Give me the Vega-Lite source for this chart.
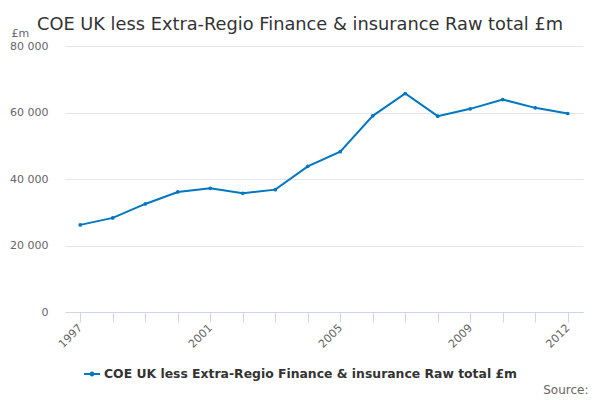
{
  "$schema": "https://vega.github.io/schema/vega-lite/v6.json",
  "autosize": "none",
  "width": 518,
  "height": 266,
  "padding": {"left": 65, "top": 46, "right": 17, "bottom": 88},
  "background": "white",
  "config": {
    "font": "DejaVu Sans",
    "view": {"stroke": null}
  },
  "title": {
    "text": "COE UK less Extra-Regio Finance & insurance Raw total £m",
    "fontSize": 17.8,
    "fontWeight": "normal",
    "color": "#333333",
    "anchor": "middle",
    "dx": -24,
    "offset": -7
  },
  "data": {
    "values": [
      {"year": "1997", "value": 26200, "series": "COE UK less Extra-Regio Finance & insurance Raw total £m"},
      {"year": "1998", "value": 28300, "series": "COE UK less Extra-Regio Finance & insurance Raw total £m"},
      {"year": "1999", "value": 32500, "series": "COE UK less Extra-Regio Finance & insurance Raw total £m"},
      {"year": "2000", "value": 36100, "series": "COE UK less Extra-Regio Finance & insurance Raw total £m"},
      {"year": "2001", "value": 37200, "series": "COE UK less Extra-Regio Finance & insurance Raw total £m"},
      {"year": "2002", "value": 35700, "series": "COE UK less Extra-Regio Finance & insurance Raw total £m"},
      {"year": "2003", "value": 36800, "series": "COE UK less Extra-Regio Finance & insurance Raw total £m"},
      {"year": "2004", "value": 43800, "series": "COE UK less Extra-Regio Finance & insurance Raw total £m"},
      {"year": "2005", "value": 48200, "series": "COE UK less Extra-Regio Finance & insurance Raw total £m"},
      {"year": "2006", "value": 59000, "series": "COE UK less Extra-Regio Finance & insurance Raw total £m"},
      {"year": "2007", "value": 65700, "series": "COE UK less Extra-Regio Finance & insurance Raw total £m"},
      {"year": "2008", "value": 58900, "series": "COE UK less Extra-Regio Finance & insurance Raw total £m"},
      {"year": "2009", "value": 61100, "series": "COE UK less Extra-Regio Finance & insurance Raw total £m"},
      {"year": "2010", "value": 63900, "series": "COE UK less Extra-Regio Finance & insurance Raw total £m"},
      {"year": "2011", "value": 61400, "series": "COE UK less Extra-Regio Finance & insurance Raw total £m"},
      {"year": "2012", "value": 59700, "series": "COE UK less Extra-Regio Finance & insurance Raw total £m"}
    ]
  },
  "mark": {"type": "line", "strokeWidth": 2, "point": {"size": 14, "filled": true}},
  "encoding": {
    "x": {
      "field": "year",
      "type": "ordinal",
      "scale": {"type": "point", "padding": 0.47},
      "axis": {
        "title": "Source:",
        "titleFontSize": 12,
        "titleFontWeight": "normal",
        "titleColor": "#666666",
        "titleX": 523,
        "titleY": 84,
        "titleAlign": "right",
        "titleBaseline": "bottom",
        "titleAnchor": null,
        "labelAngle": -45,
        "labelAlign": "right",
        "labelBaseline": "middle",
        "labelFontSize": 11,
        "labelColor": "#666666",
        "labelPadding": 4,
        "labelOverlap": false,
        "labelExpr": "indexof(['1997','2001','2005','2009','2012'], datum.label) >= 0 ? datum.label : ''",
        "domainColor": "#ccd6eb",
        "tickColor": "#ccd6eb",
        "tickSize": 10,
        "grid": false
      }
    },
    "y": {
      "field": "value",
      "type": "quantitative",
      "scale": {"domain": [0, 80000], "nice": false},
      "axis": {
        "values": [0, 20000, 40000, 60000, 80000],
        "title": "£m",
        "titleAngle": 0,
        "titleAlign": "left",
        "titleBaseline": "bottom",
        "titleX": -54,
        "titleY": -8,
        "titleFontSize": 11,
        "titleFontWeight": "normal",
        "titleColor": "#666666",
        "labelExpr": "replace(format(datum.value, ','), ',', ' ')",
        "labelFontSize": 11,
        "labelColor": "#666666",
        "labelPadding": 17,
        "domain": false,
        "ticks": false,
        "gridColor": "#e6e6e6"
      }
    },
    "color": {
      "field": "series",
      "type": "nominal",
      "scale": {"range": ["#0077c0"]},
      "legend": {
        "title": null,
        "orient": "none",
        "legendX": 19,
        "legendY": 320,
        "symbolType": "M-1,-0.125H1V0.125H-1Z M-0.3,0A0.3,0.3,0,1,1,0.3,0A0.3,0.3,0,1,1,-0.3,0Z",
        "symbolSize": 256,
        "symbolStrokeWidth": 0,
        "symbolFillColor": "#0077c0",
        "labelFontSize": 12.4,
        "labelFontWeight": "bold",
        "labelColor": "#333333",
        "labelLimit": 0
      }
    }
  }
}
